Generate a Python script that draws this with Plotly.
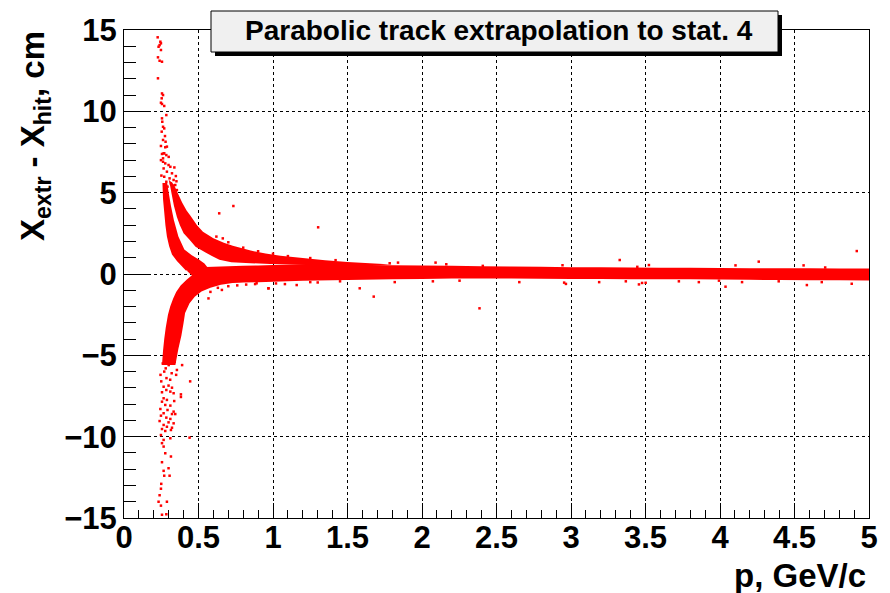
import plotly.graph_objects as go

# ---------------- data ----------------
# dense central band (upper edge left->right, lower edge right->left)
band_x = [0.42, 0.46, 0.50, 0.55, 0.60, 0.70, 0.80, 0.90, 1.00, 1.10, 1.20, 1.35, 1.50, 1.65, 1.80,
          2.00, 2.20, 2.40, 2.60, 2.80, 3.00, 3.20, 3.40, 3.60, 3.80, 4.00, 4.20, 4.40, 4.60, 4.80, 5.00,
          5.00, 4.80, 4.60, 4.40, 4.20, 4.00, 3.80, 3.60, 3.40, 3.20, 3.00, 2.80, 2.60, 2.40, 2.20,
          2.00, 1.80, 1.60, 1.40, 1.20, 1.00, 0.90, 0.80, 0.70, 0.60, 0.50, 0.45]
band_y = [0.22, 0.34, 0.40, 0.43, 0.45, 0.47, 0.50, 0.53, 0.56, 0.58, 0.60, 0.60, 0.58, 0.56, 0.54,
          0.52, 0.50, 0.48, 0.46, 0.44, 0.42, 0.41, 0.40, 0.39, 0.38, 0.37, 0.36, 0.35, 0.35, 0.34, 0.34,
          -0.40, -0.39, -0.38, -0.37, -0.36, -0.34, -0.33, -0.32, -0.32, -0.31, -0.30, -0.29, -0.28, -0.27, -0.28,
          -0.30, -0.32, -0.35, -0.38, -0.42, -0.47, -0.50, -0.53, -0.55, -0.50, -0.34, -0.05]

# outer positive branch
brA_x = [0.30, 0.335, 0.36, 0.39, 0.42, 0.445, 0.49, 0.53, 0.60, 0.67, 0.73, 0.85, 0.95, 1.05, 1.20, 1.35,
         1.50, 1.65, 1.80, 1.60, 1.30, 1.10, 0.98, 0.85, 0.72, 0.64, 0.60, 0.55, 0.48, 0.44, 0.40, 0.375,
         0.355, 0.335, 0.32, 0.31]
brA_y = [5.8, 5.5, 5.0, 4.4, 3.9, 3.6, 3.0, 2.6, 2.2, 1.92, 1.74, 1.44, 1.26, 1.12, 0.98, 0.84,
         0.74, 0.66, 0.58, 0.50, 0.53, 0.60, 0.62, 0.66, 0.72, 0.88, 1.06, 1.30, 1.68, 2.10, 2.50, 3.00,
         3.50, 4.20, 4.90, 5.40]

# inner positive branch
brB_x = [0.258, 0.262, 0.270, 0.278, 0.288, 0.303, 0.322, 0.355, 0.385, 0.415,
         0.500, 0.560, 0.540, 0.505, 0.455, 0.405, 0.365, 0.335, 0.315, 0.300, 0.290]
brB_y = [5.6, 4.6, 3.8, 3.0, 2.3, 1.7, 1.2, 0.8, 0.5, 0.22,
         0.30, 0.42, 0.64, 0.88, 1.15, 1.50, 2.30, 3.30, 4.20, 5.00, 5.60]

# negative branch
brC_x = [0.46, 0.42, 0.38, 0.35, 0.33, 0.31, 0.295, 0.28, 0.27, 0.262, 0.255,
         0.345, 0.365, 0.385, 0.400, 0.410, 0.440, 0.475, 0.52, 0.58, 0.65, 0.75, 0.85]
brC_y = [-0.05, -0.35, -0.70, -1.10, -1.50, -2.00, -2.50, -3.30, -4.00, -4.70, -5.60,
         -5.60, -4.60, -3.80, -3.00, -2.40, -1.80, -1.40, -1.08, -0.84, -0.66, -0.52, -0.46]

# sparse individual entries
pts_x = [0.226, 0.244, 0.239, 0.248, 0.232, 0.248, 0.228, 0.239, 0.255, 0.228, 0.255, 0.262, 0.253, 0.248,
         0.255, 0.270, 0.284, 0.255, 0.257, 0.262, 0.270, 0.253, 0.275, 0.262, 0.279, 0.248, 0.288, 0.277,
         0.266, 0.255, 0.270, 0.284, 0.262, 0.248, 0.277, 0.299, 0.311, 0.266, 0.288, 0.322, 0.270, 0.306,
         0.333, 0.284, 0.315, 0.344, 0.292, 0.329, 0.355, 0.251, 0.348, 0.338, 0.262, 0.300, 0.352,
         0.734, 0.639, 0.663, 1.303, 1.676, 1.582, 1.159, 0.969, 3.327, 4.26, 4.918, 2.386, 4.037, 4.583,
         1.839, 2.091, 3.523, 3.477, 2.954, 0.567, 0.657, 0.89, 0.97,
         0.26, 0.30, 0.34, 0.27, 0.32, 0.285, 0.25, 0.31, 0.35, 0.28, 0.355, 0.245, 0.444, 0.39,
         0.266, 0.299, 0.322, 0.284, 0.255, 0.311, 0.333, 0.382, 0.382, 0.266, 0.288, 0.255, 0.337, 0.277,
         0.311, 0.244, 0.292, 0.333, 0.266, 0.322, 0.344, 0.248, 0.284, 0.311, 0.239, 0.299, 0.333, 0.266,
         0.288, 0.255, 0.322, 0.277, 0.315, 0.248, 0.266, 0.311, 0.44, 0.255, 0.266, 0.277, 0.315, 0.255,
         0.299, 0.266, 0.306, 0.270, 0.250, 0.248, 0.239, 0.232, 0.288, 0.248, 0.255, 0.284,
         1.817, 2.073, 2.252, 2.653, 2.966, 3.189, 3.368, 3.456, 3.501, 3.724, 3.858, 3.993, 4.148, 4.394,
         4.683, 4.884, 1.783, 2.163, 2.408, 2.943, 3.445, 4.104, 4.561, 4.706,
         0.52, 0.58, 0.63, 0.70, 0.76, 0.82, 0.88, 1.02, 1.08, 1.25, 1.30, 1.45,
         0.62, 0.70, 0.80, 0.90, 1.00, 1.10, 1.25, 1.42]
pts_y = [14.55, 14.28, 14.07, 14.18, 13.97, 13.77, 13.32, 13.11, 13.05, 12.03, 11.10, 11.00, 10.80, 10.53,
         10.45, 10.33, 9.77, 9.57, 9.36, 9.05, 8.95, 8.75, 8.48, 8.24, 8.13, 7.87, 7.83, 7.79,
         7.42, 7.38, 7.42, 7.31, 7.11, 7.00, 6.80, 6.70, 6.59, 6.49, 6.29, 6.19, 5.98, 5.88,
         5.78, 5.67, 5.57, 5.47, 5.37, 5.27, 5.16, 6.05, 6.02, 6.55, 6.9, 7.2, 5.7,
         4.18, 3.73, 2.19, 2.87, -1.39, -0.88, -0.68, -0.88, 0.86, 0.76, 1.41, -2.11, -0.78, -0.68,
         0.70, 0.70, 0.55, -0.55, -0.53, -1.50, -0.98, -0.57, -0.88,
         -5.5, -5.6, -5.4, -6.0, -6.1, -6.4, -6.6, -6.5, -6.2, -5.8, -5.9, -6.2, -6.6, -5.6,
         -6.93, -6.86, -6.99, -7.13, -7.27, -7.23, -7.33, -7.40, -7.56, -7.64, -7.74, -7.85, -7.81, -8.05,
         -8.09, -8.30, -8.36, -8.46, -8.56, -8.61, -8.61, -8.71, -8.83, -8.91, -9.04, -9.12, -9.18, -9.28,
         -9.39, -9.53, -9.45, -9.65, -9.59, -9.90, -10.2, -10.1, -10.06, -10.4, -10.61, -11.02, -11.22, -11.57,
         -11.94, -12.1, -12.4, -12.4, -12.9, -13.2, -13.6, -14.0, -14.0, -14.24, -14.8, -14.77,
         -0.50, -0.45, -0.41, -0.50, -0.61, -0.50, -0.45, -0.64, -0.54, -0.45, -0.50, -0.41, -0.50, -0.45,
         -0.50, -0.60, 0.66, 0.60, 0.50, 0.54, 0.44, 0.53, 0.53, 0.40,
         -0.90, -1.10, -0.85, -0.75, -0.70, -0.65, -0.62, -0.58, -0.62, -0.50, -0.52, -0.45,
         2.30, 1.95, 1.62, 1.40, 1.25, 1.10, 0.98, 0.85]

title_text = "Parabolic track extrapolation to stat. 4"
x_title = "p, GeV/c"
y_title = "X<sub>extr</sub> - X<sub>hit</sub>, cm"

RED = "#ff0000"
FONT = "Liberation Sans"

fig = go.Figure()
for xs, ys in [(band_x, band_y), (brA_x, brA_y), (brB_x, brB_y), (brC_x, brC_y)]:
    fig.add_trace(go.Scatter(x=xs, y=ys, mode="none", fill="toself", fillcolor=RED,
                             hoverinfo="skip", showlegend=False))
fig.add_trace(go.Scatter(x=pts_x, y=pts_y, mode="markers",
                         marker=dict(symbol="square", size=2.5, color=RED, line=dict(width=0)),
                         showlegend=False))

W, H = 890, 593
L, T = 124, 30
R = W - 869
B = H - 518
pw, ph = W - L - R, H - T - B


def px(xp):
    return (xp - L) / pw


def py(yp):
    return (H - B - yp) / ph


axis_common = dict(
    ticks="inside", tickcolor="black", tickwidth=1,
    showgrid=True, gridcolor="black", griddash="dot", gridwidth=1,
    showline=True, linecolor="black", linewidth=1, mirror=True, zeroline=False,
    tickfont=dict(family=FONT, size=31, color="black", weight="bold"),
)
fig.update_xaxes(range=[0, 5], tick0=0, dtick=0.5, ticklen=15, ticklabelstandoff=-8,
                 minor=dict(dtick=0.1, ticks="inside", ticklen=8, tickcolor="black", showgrid=False),
                 **axis_common)
fig.update_yaxes(range=[-15, 15], tick0=0, dtick=5, ticklen=24,
                 minor=dict(dtick=1, ticks="inside", ticklen=12, tickcolor="black", showgrid=False),
                 **axis_common)

fig.update_layout(
    width=W, height=H, margin=dict(l=L, r=R, t=T, b=B, autoexpand=False),
    paper_bgcolor="white", plot_bgcolor="white",
    shapes=[
        dict(type="rect", xref="paper", yref="paper", x0=px(215), x1=px(782), y0=py(56), y1=py(15),
             fillcolor="black", line=dict(width=0), layer="above"),
        dict(type="rect", xref="paper", yref="paper", x0=px(211), x1=px(778), y0=py(52), y1=py(11),
             fillcolor="#f0f0f0", line=dict(width=1, color="black"), layer="above"),
    ],
    annotations=[
        dict(text=title_text, xref="paper", yref="paper", x=px(499), y=py(31), xanchor="center",
             yanchor="middle", showarrow=False,
             font=dict(family=FONT, size=28, color="black", weight="bold")),
        dict(text=x_title, xref="paper", yref="paper", x=px(868), y=py(575), xanchor="right",
             yanchor="middle", showarrow=False,
             font=dict(family=FONT, size=33, color="black", weight="bold")),
        dict(text=y_title, xref="paper", yref="paper", x=px(35), y=py(29), xanchor="center",
             yanchor="top", textangle=-90, showarrow=False,
             font=dict(family=FONT, size=33, color="black", weight="bold")),
    ],
)

# remove the default 8 px page margin so the figure fills the window exactly
fig.write_html("out.html", config={"displayModeBar": False},
               post_script="document.body.style.margin='0';document.body.style.overflow='hidden';")
